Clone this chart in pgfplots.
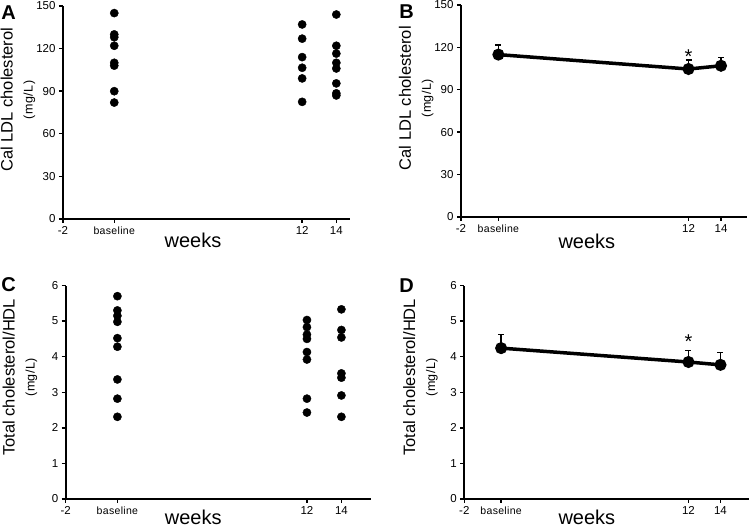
\documentclass[border=0pt]{standalone}
\usepackage{fontspec}
\setmainfont{Liberation Sans}
\usepackage{pgfplots}
\pgfplotsset{compat=1.18}

% shared look of the four panels
\pgfplotsset{
  panel/.style={
    scale only axis, anchor=south west,
    axis x line=bottom, axis y line=left,
    axis line style={-, line width=1.8pt},
    xmin=-2, ymin=0, enlargelimits=false, clip=false,
    tick align=outside, major tick length=4pt,
    tick style={line width=1.4pt, black},
    ticklabel style={font=\fontsize{11.5}{12}\selectfont},
    /pgf/number format/assume math mode=true,
    xtick={-2,#1,12,14},
    xticklabels={-2,{\fontsize{10.5}{11}\selectfont\addfontfeature{LetterSpace=3}baseline},12,14},
    xlabel={weeks},
    every axis y label/.style={rotate=90, anchor=center, align=center,
      font=\fontsize{16.5}{18}\selectfont},
  },
  dots/.style={only marks, mark=*, mark size=4.1pt, black},
  means/.style={black, line width=3.5pt, mark=*, mark size=4.2pt,
    error bars/.cd, y dir=plus, y explicit,
    error bar style={line width=1.4pt},
    error mark options={rotate=90, mark size=3pt, line width=1.4pt}},
}
\newcommand{\ylab}[1]{#1\\[2pt]{\fontsize{12.5}{13}\selectfont\addfontfeature{LetterSpace=4}(mg/L)}}
\newcommand{\wk}{\fontsize{20}{22}\selectfont}

\begin{document}
\begin{tikzpicture}
\useasboundingbox (0,0) rectangle (750pt,530pt);

% A
\begin{axis}[panel=1, at={(63pt,311pt)}, width=287pt, height=213pt,
  xmax=14.8, ymax=150, ytick={0,30,60,90,120,150},
  ylabel={\ylab{Cal LDL cholesterol}},
  ylabel style={at={(axis description cs:-0.157,0.56)}},
  xlabel style={font=\wk, at={(axis description cs:0.453,0)}, anchor=base, yshift=-29pt}]
\addplot[dots] coordinates {(1,145) (1,130) (1,128) (1,122) (1,110) (1,108) (1,90) (1,82)};
\addplot[dots] coordinates {(12,137) (12,127) (12,114) (12,106.5) (12,99) (12,82.5)};
\addplot[dots] coordinates {(14,144) (14,122) (14,116.5) (14,110) (14,106) (14,95.5) (14,88.5) (14,87)};
\end{axis}

% B
\begin{axis}[panel=0.3, at={(461pt,313pt)}, width=286pt, height=212pt,
  xmax=15.6, ymax=150, ytick={0,30,60,90,120,150},
  ylabel={\ylab{Cal LDL cholesterol}},
  ylabel style={at={(axis description cs:-0.157,0.56)}},
  xlabel style={font=\wk, at={(axis description cs:0.44,0)}, anchor=base, yshift=-32pt}]
\addplot[means] coordinates {(0.3,114.9) +- (0,6.8) (12,104.7) +- (0,6.3) (14,107) +- (0,5.7)};
\node[font=\fontsize{20}{20}\selectfont] at (axis cs:12,113.5) {*};
\end{axis}

% C
\begin{axis}[panel=1, at={(65.7pt,31pt)}, width=305pt, height=213.5pt,
  xmax=15.7, ymax=6, ytick={0,1,2,3,4,5,6},
  ylabel={\ylab{Total cholesterol/HDL}},
  ylabel style={at={(axis description cs:-0.15,0.57)}},
  xlabel style={font=\wk, at={(axis description cs:0.418,0)}, anchor=base, yshift=-26pt}]
\addplot[dots] coordinates {(1,5.7) (1,5.3) (1,5.15) (1,4.98) (1,4.52) (1,4.28) (1,3.36) (1,2.82) (1,2.31)};
\addplot[dots] coordinates {(12,5.03) (12,4.83) (12,4.62) (12,4.5) (12,4.13) (12,3.92) (12,2.82) (12,2.43)};
\addplot[dots] coordinates {(14,5.33) (14,4.75) (14,4.54) (14,3.53) (14,3.41) (14,2.91) (14,2.31)};
\end{axis}

% D
\begin{axis}[panel=0.3, at={(464.3pt,31pt)}, width=285pt, height=213.5pt,
  xmax=15.8, ymax=6, ytick={0,1,2,3,4,5,6},
  ylabel={\ylab{Total cholesterol/HDL}},
  ylabel style={at={(axis description cs:-0.154,0.57)}},
  xlabel style={font=\wk, at={(axis description cs:0.43,0)}, anchor=base, yshift=-26pt}]
\addplot[means] coordinates {(0.3,4.24) +- (0,0.39) (12,3.85) +- (0,0.33) (14,3.77) +- (0,0.35)};
\node[font=\fontsize{20}{20}\selectfont] at (axis cs:12,4.43) {*};
\end{axis}

% panel letters
\node[font=\bfseries\fontsize{20}{22}\selectfont] at (8.5pt,517.5pt) {A};
\node[font=\bfseries\fontsize{20}{22}\selectfont] at (406.5pt,518.5pt) {B};
\node[font=\bfseries\fontsize{20}{22}\selectfont] at (8.5pt,245pt) {C};
\node[font=\bfseries\fontsize{20}{22}\selectfont] at (406.5pt,244pt) {D};
\end{tikzpicture}
\end{document}
